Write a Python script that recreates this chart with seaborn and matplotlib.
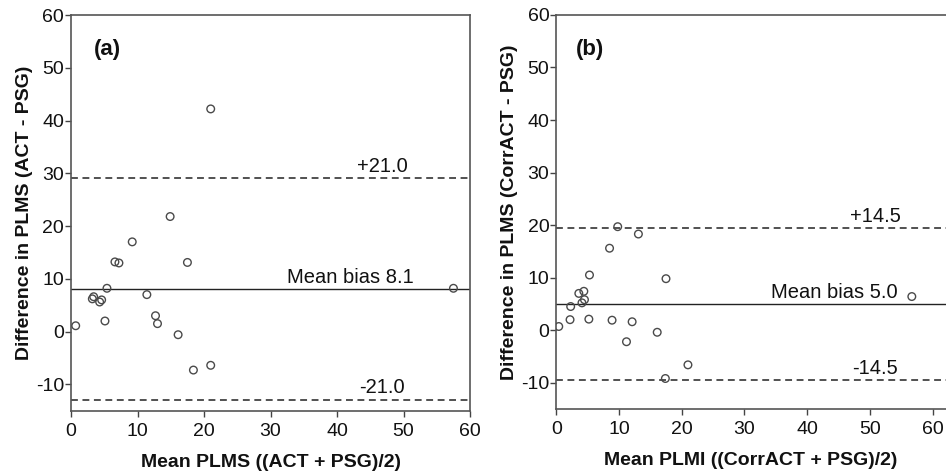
import numpy as np
import pandas as pd
import matplotlib
matplotlib.use("Agg")
import matplotlib.pyplot as plt
import seaborn as sns

# Panel (a): ACT vs PSG
mean_a = [21.0, 14.9, 9.2, 6.6, 7.2, 17.5, 5.4, 57.5, 11.4, 3.2,
          3.4, 4.3, 4.6, 5.1, 0.7, 12.7, 13.0, 16.1, 18.4, 21.0]
diff_a = [42.2, 21.8, 17.0, 13.2, 13.0, 13.1, 8.2, 8.2, 7.0, 6.2,
          6.6, 5.6, 6.0, 2.0, 1.1, 3.0, 1.5, -0.6, -7.3, -6.4]
bias_a = 8.1
loa_a = 21.0

# Panel (b): CorrACT vs PSG
mean_b = [9.8, 13.1, 8.5, 5.3, 17.5, 3.6, 4.4, 4.5, 4.1, 2.3,
          2.2, 5.2, 8.9, 12.1, 0.4, 16.1, 11.2, 21.0, 17.4, 56.7]
diff_b = [19.7, 18.3, 15.6, 10.5, 9.8, 7.0, 7.4, 5.8, 5.2, 4.5,
          2.0, 2.1, 1.9, 1.6, 0.7, -0.4, -2.2, -6.6, -9.2, 6.4]
bias_b = 5.0
loa_b = 14.5

sns.set_style("white")
plt.rcParams['font.family'] = ['Liberation Sans', 'DejaVu Sans']
plt.rcParams['axes.unicode_minus'] = False

fig = plt.figure(figsize=(9.46, 4.75), dpi=100)
ax_a = fig.add_axes([0.0751, 0.1354, 0.4218, 0.833])
ax_b = fig.add_axes([0.588, 0.139, 0.412, 0.8295])

panels = [
    (ax_a, mean_a, diff_a, bias_a, loa_a, "(a)",
     "Mean PLMS ((ACT + PSG)/2)", "Difference in PLMS (ACT - PSG)", (0, 60), 42, 46.8),
    (ax_b, mean_b, diff_b, bias_b, loa_b, "(b)",
     "Mean PLMI ((CorrACT + PSG)/2)", "Difference in PLMS (CorrACT - PSG)", (0, 62.15), 44.4, 50.9),
]

for ax, m, d, bias, loa, tag, xlab, ylab, xlim, bias_x, loa_x in panels:
    df = pd.DataFrame({"mean": m, "diff": d})
    ax.axhline(bias, color="#222222", lw=1.0, zorder=1)
    ax.axhline(bias + loa, color="#222222", lw=1.1, ls=(0, (4.5, 3)), zorder=1)
    ax.axhline(bias - loa, color="#222222", lw=1.1, ls=(0, (4.5, 3)), zorder=1)
    sns.scatterplot(data=df, x="mean", y="diff", ax=ax, marker="o", s=30,
                    facecolor="none", edgecolor="#4a4a4a", linewidth=1.0, zorder=3)

    ax.text(bias_x, bias + 0.4, f"Mean bias {bias:.1f}", ha="center", va="bottom",
            fontsize=14.5, color="#111111")
    ax.text(loa_x, bias + loa + 0.4, f"+{loa:.1f}", ha="center", va="bottom",
            fontsize=14.5, color="#111111")
    ax.text(loa_x, bias - loa + 0.4, f"-{loa:.1f}", ha="center", va="bottom",
            fontsize=14.5, color="#111111")
    ax.text(5.4, 53.5, tag, ha="center", va="center", fontsize=16,
            fontweight="bold", color="#111111")

    ax.set_xlim(*xlim)
    ax.set_ylim(-15, 60)
    ax.set_xticks(np.arange(0, 61, 10))
    ax.set_yticks(np.arange(-10, 61, 10))
    ax.tick_params(axis="both", direction="out", length=4, width=1,
                   color="#444444", labelsize=14, labelcolor="#111111",
                   bottom=True, left=True)
    ax.tick_params(axis="x", pad=5)
    ax.tick_params(axis="y", pad=1)
    ax.set_xlabel(xlab, fontsize=14, fontweight="bold", labelpad=10, color="#111111")
    ax.set_ylabel(ylab, fontsize=14, fontweight="bold", labelpad=2, color="#111111")
    for sp in ax.spines.values():
        sp.set_color("#555555")
        sp.set_linewidth(1.2)

ax_b.spines["right"].set_visible(False)

fig.savefig("out.png", dpi=100)
